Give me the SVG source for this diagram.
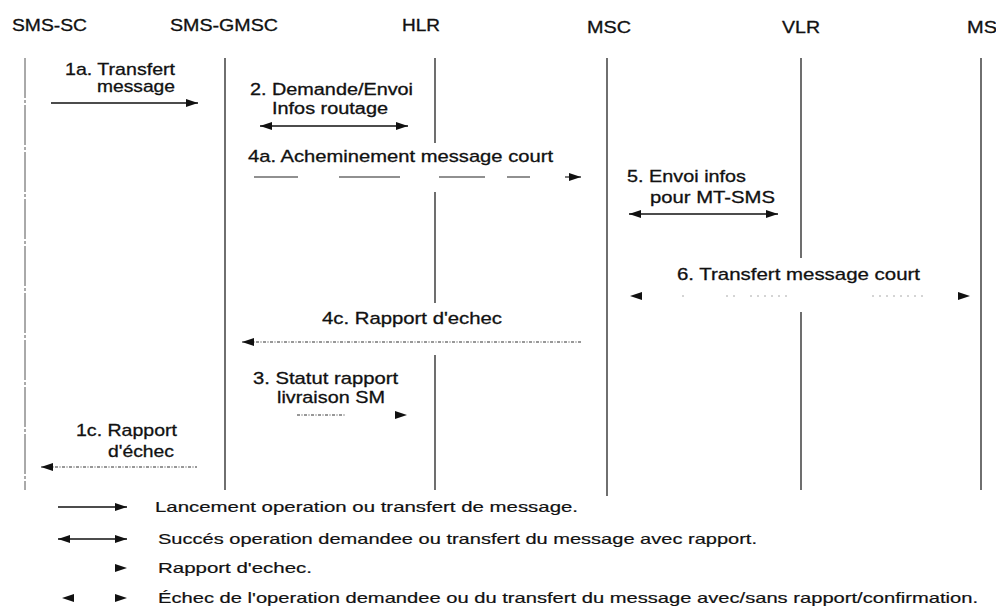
<svg xmlns="http://www.w3.org/2000/svg" width="996" height="607" viewBox="0 0 996 607">
  <style>
    text { font-family: "Liberation Sans", Arial, sans-serif; fill: #111; stroke: #111; stroke-width: 0.3; }
    .hdr { font-size: 16px; }
    .lbl { font-size: 17px; }
    .lbl2 { font-size: 16px; }
    .leg { font-size: 15px; stroke-width: 0.2; }
    .life { stroke: #222; stroke-width: 1.3; fill: none; }
    .life-thin { stroke: #555; stroke-width: 1; fill: none; stroke-dasharray: 40 2 3 2; }
    .solid { stroke: #111; stroke-width: 1.3; fill: none; }
    .dash { stroke: #222; stroke-width: 1.2; fill: none; }
    .dot { stroke: #333; stroke-width: 1.1; fill: none; stroke-dasharray: 3 1.5 1 1.5; }
    .faint { stroke: #aaa; stroke-width: 1; fill: none; stroke-dasharray: 2 5; }
    .end { marker-end: url(#head); }
    .start { marker-start: url(#head); }
  </style>
  <defs>
    <marker id="head" viewBox="0 0 12 8" markerWidth="12" markerHeight="8" refX="12" refY="4" orient="auto-start-reverse" markerUnits="userSpaceOnUse">
      <path d="M0,0 L12,4 L0,8 Z" fill="#111"/>
    </marker>
  </defs>

  <rect width="996" height="607" fill="#fff"/>

  <!-- participants: header label and lifeline -->
  <g id="sms-sc">
    <text class="hdr" x="12" y="31" textLength="75" lengthAdjust="spacingAndGlyphs">SMS-SC</text>
    <line class="life-thin" x1="25" y1="58" x2="25" y2="490"/>
  </g>
  <g id="sms-gmsc">
    <text class="hdr" x="170" y="31" textLength="108" lengthAdjust="spacingAndGlyphs">SMS-GMSC</text>
    <line class="life" x1="225" y1="58" x2="225" y2="490"/>
  </g>
  <g id="hlr">
    <text class="hdr" x="402" y="31" textLength="38" lengthAdjust="spacingAndGlyphs">HLR</text>
    <path class="life" d="M435,58 V143 M435,192 V303 M435,355 V490"/>
  </g>
  <g id="msc">
    <text class="hdr" x="587" y="33" textLength="44" lengthAdjust="spacingAndGlyphs">MSC</text>
    <line class="life" x1="607" y1="58" x2="607" y2="496"/>
  </g>
  <g id="vlr">
    <text class="hdr" x="782" y="33" textLength="38" lengthAdjust="spacingAndGlyphs">VLR</text>
    <path class="life" d="M801,58 V258 M801,312 V490"/>
  </g>
  <g id="ms">
    <text class="hdr" x="967" y="33" textLength="30" lengthAdjust="spacingAndGlyphs">MS</text>
    <line class="life" x1="981" y1="58" x2="981" y2="490"/>
  </g>

  <!-- messages -->
  <g id="connectors">
    <g id="msg-1a">
      <text class="lbl" x="65" y="75" textLength="110" lengthAdjust="spacingAndGlyphs">1a. Transfert</text>
      <text class="lbl" x="97" y="92" textLength="78" lengthAdjust="spacingAndGlyphs">message</text>
      <line class="solid end" x1="51" y1="103" x2="198" y2="103"/>
    </g>
    <g id="msg-2">
      <text class="lbl2" x="250" y="95" textLength="163" lengthAdjust="spacingAndGlyphs">2. Demande/Envoi</text>
      <text class="lbl2" x="272" y="114" textLength="116" lengthAdjust="spacingAndGlyphs">Infos routage</text>
      <line class="solid start end" x1="260" y1="126" x2="408" y2="126"/>
    </g>
    <g id="msg-4a">
      <text class="lbl" x="248" y="162" textLength="305" lengthAdjust="spacingAndGlyphs">4a. Acheminement message court</text>
      <path class="dash" d="M254,177 H298 M339,177 H400 M439,177 H485 M507,177 H530"/>
      <path class="dash end" d="M565,177 H581"/>
    </g>
    <g id="msg-5">
      <text class="lbl" x="627" y="182" textLength="119" lengthAdjust="spacingAndGlyphs">5. Envoi infos</text>
      <text class="lbl" x="650" y="203" textLength="125" lengthAdjust="spacingAndGlyphs">pour MT-SMS</text>
      <line class="solid start end" x1="629" y1="214" x2="778" y2="214"/>
    </g>
    <g id="msg-6">
      <text class="lbl" x="677" y="280" textLength="243" lengthAdjust="spacingAndGlyphs">6. Transfert message court</text>
      <path class="faint" d="M682,296 H686 M726,296 H740 M750,296 H790 M872,296 H925"/>
      <path stroke="none" fill="none" class="start" d="M630,296 H645"/>
      <path stroke="none" fill="none" class="end" d="M955,296 H970"/>
    </g>
    <g id="msg-4c">
      <text class="lbl" x="322" y="324" textLength="180" lengthAdjust="spacingAndGlyphs">4c. Rapport d'echec</text>
      <line class="dot start" x1="242" y1="342" x2="582" y2="342"/>
    </g>
    <g id="msg-3">
      <text class="lbl" x="253" y="384" textLength="145" lengthAdjust="spacingAndGlyphs">3. Statut rapport</text>
      <text class="lbl" x="277" y="403" textLength="108" lengthAdjust="spacingAndGlyphs">livraison SM</text>
      <line class="dot" x1="297" y1="415" x2="345" y2="415"/>
      <path stroke="none" fill="none" class="end" d="M392,415 H407"/>
    </g>
    <g id="msg-1c">
      <text class="lbl" x="76" y="436" textLength="101" lengthAdjust="spacingAndGlyphs">1c. Rapport</text>
      <text class="lbl" x="108" y="457" textLength="66" lengthAdjust="spacingAndGlyphs">d'échec</text>
      <line class="dot start" x1="41" y1="467" x2="197" y2="467"/>
    </g>
  </g>

  <!-- key -->
  <g id="legend">
    <line class="solid end" x1="58" y1="507" x2="127" y2="507"/>
    <text class="leg" x="155" y="512" textLength="423" lengthAdjust="spacingAndGlyphs">Lancement operation ou transfert de message.</text>

    <line class="solid start end" x1="58" y1="539" x2="127" y2="539"/>
    <text class="leg" x="158" y="544" textLength="599" lengthAdjust="spacingAndGlyphs">Succés operation demandee ou transfert du message avec rapport.</text>

    <path stroke="none" fill="none" class="end" d="M112,568 H127"/>
    <text class="leg" x="158" y="573" textLength="154" lengthAdjust="spacingAndGlyphs">Rapport d'echec.</text>

    <path stroke="none" fill="none" class="start" d="M62,598 H77"/>
    <path stroke="none" fill="none" class="end" d="M112,598 H127"/>
    <text class="leg" x="158" y="603" textLength="820" lengthAdjust="spacingAndGlyphs">Échec de l'operation demandee ou du transfert du message avec/sans rapport/confirmation.</text>
  </g>
</svg>
